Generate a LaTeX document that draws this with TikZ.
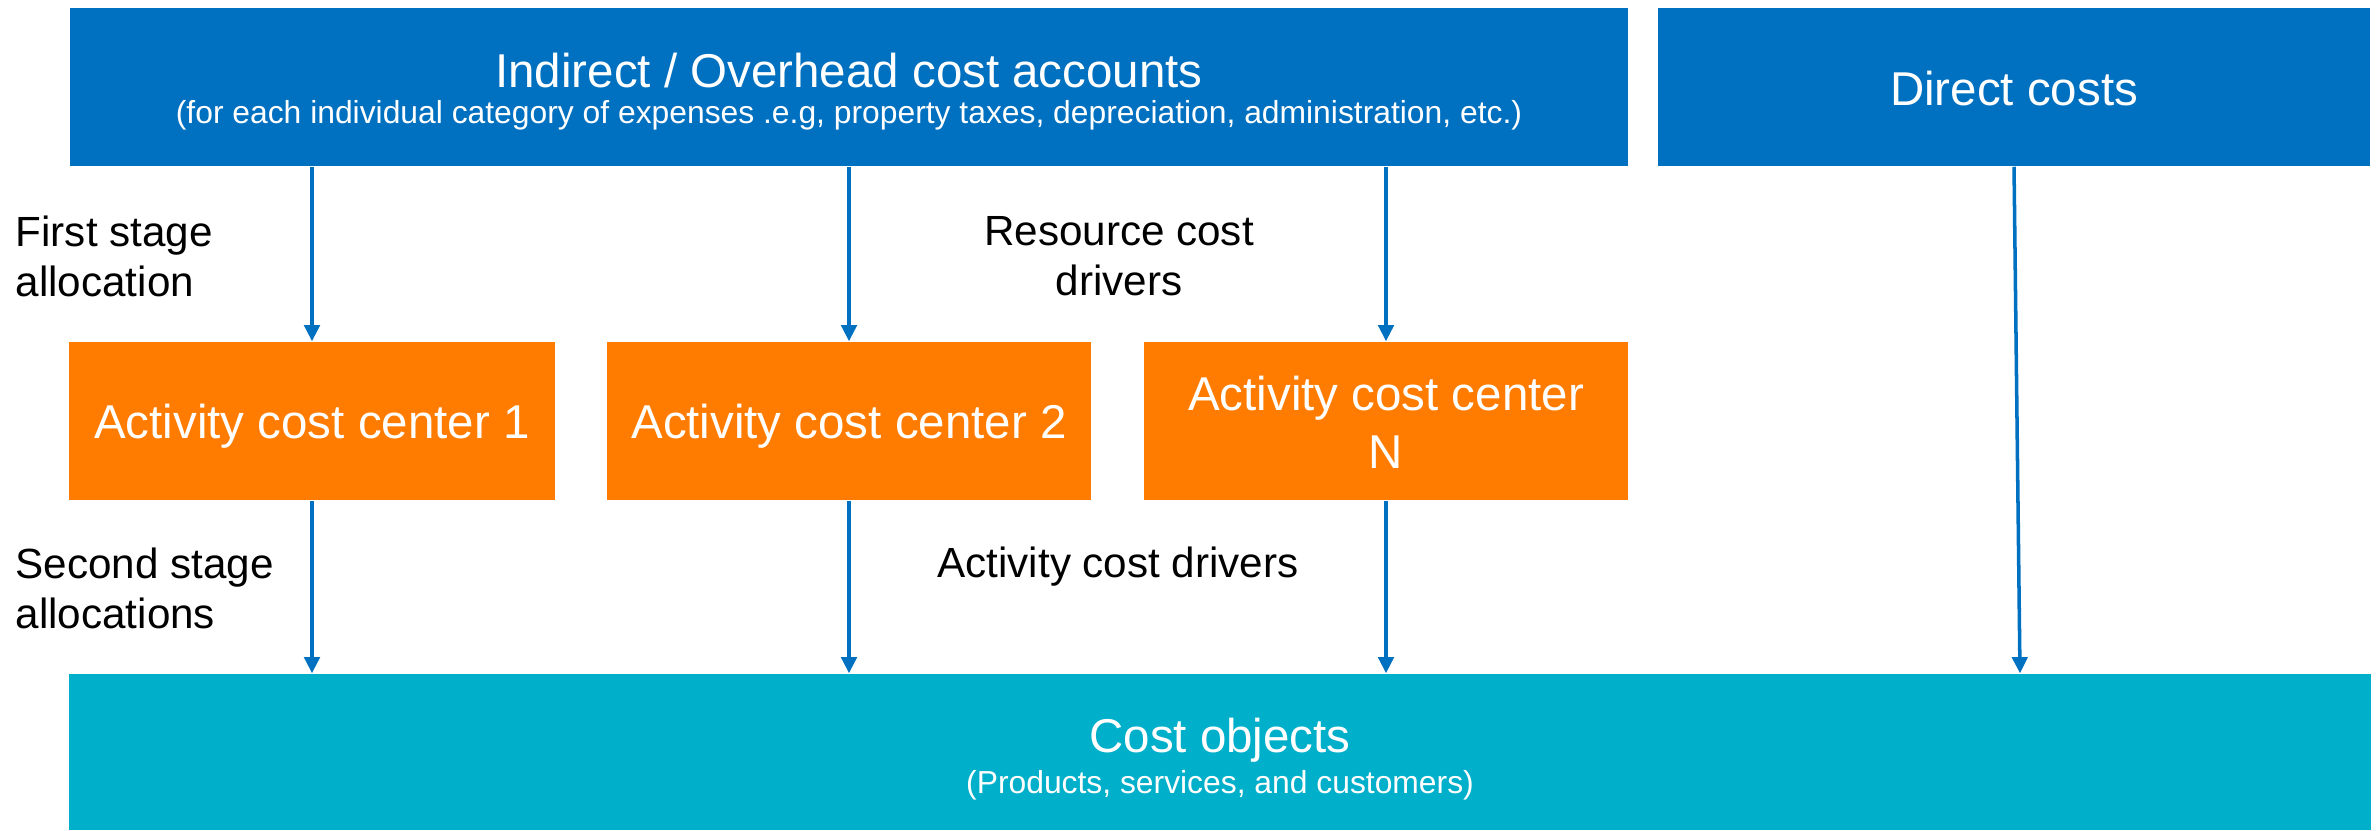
\documentclass[tikz,border=0pt]{standalone}
\usepackage{fontspec}
\setmainfont{Liberation Sans}
\usetikzlibrary{arrows.meta}

\definecolor{acblue}{HTML}{0070C0}
\definecolor{acorange}{HTML}{FF7C00}
\definecolor{acteal}{HTML}{00AFCA}

% box text: 13.5pt, fixed line distance
\newcommand{\boxfont}[1]{\fontsize{13.5}{#1}\selectfont\lineskiplimit=-20pt}
\newcommand{\subfont}{\fontsize{9.05}{11}\selectfont}

\begin{document}
\begin{tikzpicture}[x=0.01cm, y=-0.01cm,
        box/.style={fill=#1, text=white, inner sep=0pt, align=center, minimum height=1.58cm,
            text depth=0pt, font=\boxfont{16pt}},
        lbl/.style={font=\fontsize{12}{14.2}\selectfont, inner sep=0pt},
        flow/.style={draw=acblue, line width=1pt, arrows={-Triangle[width=4.4pt, length=4.6pt]}}]
            \useasboundingbox (0,0) rectangle (2380,830);

            % cost pools
            \node[box=acblue, minimum width=15.58cm, text height=20.48pt, font=\boxfont{10.24pt}] (indirect) at (849,87)
                {Indirect / Overhead cost accounts\\{\subfont (for each individual category of expenses .e.g, property taxes, depreciation, administration, etc.)}};
            \node[box=acblue, minimum width=7.12cm, text height=10.8pt] (direct) at (2014,87) {Direct costs};

            % activity centers
            \node[box=acorange, minimum width=4.85cm, text height=10.2pt] (acc1) at (312,421) {Activity cost center 1};
            \node[box=acorange, minimum width=4.83cm, text height=10.2pt] (acc2) at (849,421) {Activity cost center 2};
            \node[box=acorange, minimum width=4.83cm, text height=26.74pt, font=\boxfont{16.5pt}] (accN) at (1386,421) {Activity cost center\\N};

            % cost objects
            \node[box=acteal, minimum width=23cm, minimum height=1.56cm, text height=23.32pt, font=\boxfont{11.66pt}] (cost) at (1220,752)
                {Cost objects\\{\subfont (Products, services, and customers)}};

            % allocations
            \foreach \acc in {acc1, acc2, accN}{
                \draw[flow] (indirect.south -| \acc.north) -- (\acc.north);
                \draw[flow] (\acc.south) -- (cost.north -| \acc.south);
            }
            \draw[flow] (direct.south) -- ([xshift=1.7pt]cost.north -| direct.south);

            % labels
            \node[lbl, anchor=west, align=left] (firststage) at (15,256) {First stage\\allocation};
            \node[lbl, align=center] (resdrivers) at (1119,256) {Resource cost\\drivers};
            \node[lbl, anchor=west, align=left] (secondstage) at (15,588) {Second stage\\allocations};
            \node[lbl] (actdrivers) at (1118,567) {Activity cost drivers};
        \end{tikzpicture}
\end{document}
